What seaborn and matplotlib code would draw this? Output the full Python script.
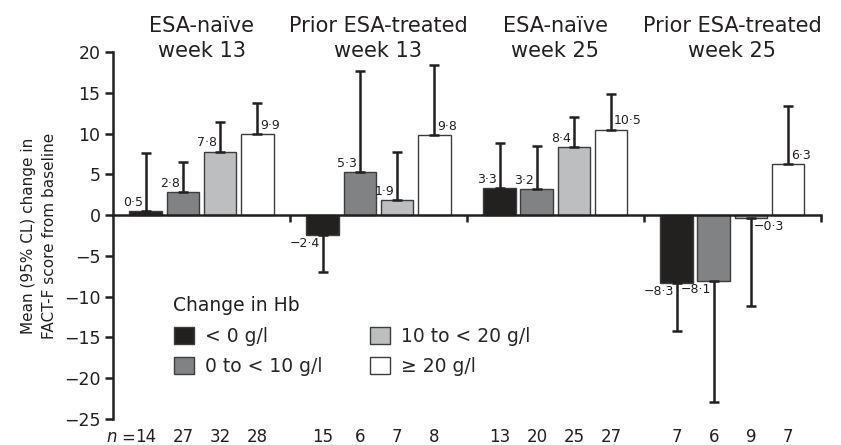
import pandas as pd
import seaborn as sns
from matplotlib import pyplot as plt
from matplotlib import transforms

groups = ["ESA-naïve\nweek 13", "Prior ESA-treated\nweek 13",
          "ESA-naïve\nweek 25", "Prior ESA-treated\nweek 25"]
hb_levels = ["< 0 g/l", "0 to < 10 g/l", "10 to < 20 g/l", "≥ 20 g/l"]

# mean change per group, one list per Hb category
mean_lt0 = [0.5, -2.4, 3.3, -8.3]
mean_0_10 = [2.8, 5.3, 3.2, -8.1]
mean_10_20 = [7.8, 1.9, 8.4, -0.3]
mean_ge20 = [9.9, 9.8, 10.5, 6.3]

# outer 95% CL limit (upper for positive means, lower for negative)
cl_lt0 = [7.6, -7.0, 8.8, -14.2]
cl_0_10 = [6.5, 17.7, 8.5, -22.9]
cl_10_20 = [11.4, 7.8, 12.0, -11.2]
cl_ge20 = [13.7, 18.4, 14.8, 13.4]

n_lt0 = [14, 15, 13, 7]
n_0_10 = [27, 6, 20, 6]
n_10_20 = [32, 7, 25, 9]
n_ge20 = [28, 8, 27, 7]

colors = ["#231f20", "#808285", "#bcbec0", "#ffffff"]

means = [mean_lt0, mean_0_10, mean_10_20, mean_ge20]
cls = [cl_lt0, cl_0_10, cl_10_20, cl_ge20]
ns = [n_lt0, n_0_10, n_10_20, n_ge20]

rows = []
for lev, vals in zip(hb_levels, means):
    for g, v in zip(groups, vals):
        rows.append({"group": g, "hb": lev, "mean": v})
df = pd.DataFrame(rows)


def fmt(v):
    return f"{v:.1f}".replace(".", "·").replace("-", "−")


sns.set_theme(style="ticks")
plt.rcParams["font.family"] = ["DejaVu Sans"]

fig, ax = plt.subplots(figsize=(8.41, 4.45), dpi=100)
fig.subplots_adjust(left=0.1344, right=0.976, bottom=0.0584, top=0.883)

sns.barplot(data=df, x="group", y="mean", hue="hb", order=groups,
            hue_order=hb_levels, palette=colors, width=0.84, gap=0.12,
            edgecolor="#3c3c3c", linewidth=1.0, errorbar=None, ax=ax)

# bars sorted left to right: group-major, hue-minor
bars = sorted([p for p in ax.patches if p.get_width() > 0], key=lambda p: p.get_x())
tr = transforms.blended_transform_factory(ax.transData, ax.transAxes)

for k, bar in enumerate(bars[:16]):
    i, j = divmod(k, 4)
    xc = bar.get_x() + bar.get_width() / 2
    v = means[j][i]
    lim = cls[j][i]
    ax.errorbar(xc, v, yerr=[[max(v - lim, 0)], [max(lim - v, 0)]],
                fmt="none", ecolor="#231f20", elinewidth=1.8,
                capsize=3.8, capthick=1.8, zorder=3)
    right = j == 3 or (v < 0 and abs(v) < 1)
    dx = 2 if right else -2
    dy = 1.5 if v >= 0 else -1.5
    ax.annotate(fmt(v), (xc, v), xytext=(dx, dy), textcoords="offset points",
                ha="left" if right else "right",
                va="bottom" if v >= 0 else "top",
                fontsize=9, color="#231f20", zorder=4)
    # n row below the axis
    ax.text(xc, -0.05, str(ns[j][i]), transform=tr, ha="center",
            va="center", fontsize=12, color="#231f20", clip_on=False)
    if k == 0:
        ax.annotate("=", (xc, -0.05), xycoords=tr, xytext=(-8, 0),
                    textcoords="offset points", ha="right", va="center",
                    fontsize=12, color="#231f20")
        ax.annotate("n", (xc, -0.05), xycoords=tr, xytext=(-21, 0),
                    textcoords="offset points", ha="right", va="center",
                    fontsize=12, fontstyle="italic", color="#231f20")

for i, g in enumerate(groups):
    ax.text(i, 21.7, g, ha="center", va="center", fontsize=15,
            linespacing=1.3, color="#231f20", clip_on=False)

ax.set_xlim(-0.5, 3.5)
ax.set_ylim(-25, 20)
ax.set_yticks(range(-25, 21, 5))
ax.set_xticks([0.5, 1.5, 2.5, 3.5])
ax.set_xticklabels([])
ax.spines["bottom"].set_position(("data", 0))
ax.spines["top"].set_visible(False)
ax.spines["right"].set_visible(False)
for s in ["left", "bottom"]:
    ax.spines[s].set_linewidth(1.8)
    ax.spines[s].set_color("#231f20")
ax.tick_params(axis="y", length=6, width=1.8, labelsize=12.5,
               colors="#231f20", pad=3)
ax.tick_params(axis="x", length=5, width=1.8, colors="#231f20")
ax.set_xlabel("")
ax.set_ylabel("Mean (95% CL) change in\nFACT-F score from baseline",
              fontsize=11, linespacing=1.5, color="#231f20", labelpad=5)

handles, labels = ax.get_legend_handles_labels()
ax.text(0.085, 0.308, "Change in Hb", transform=ax.transAxes, ha="left",
        va="center", fontsize=13.5, color="#231f20")
ax.legend(handles, labels, ncol=2, frameon=False,
          loc="upper left", bbox_to_anchor=(0.086, 0.252),
          borderaxespad=0, borderpad=0, fontsize=13.5,
          handlelength=1.07, handleheight=1.0, handletextpad=0.6,
          columnspacing=2.5, labelspacing=0.6)

plt.savefig("out.png", dpi=100)
